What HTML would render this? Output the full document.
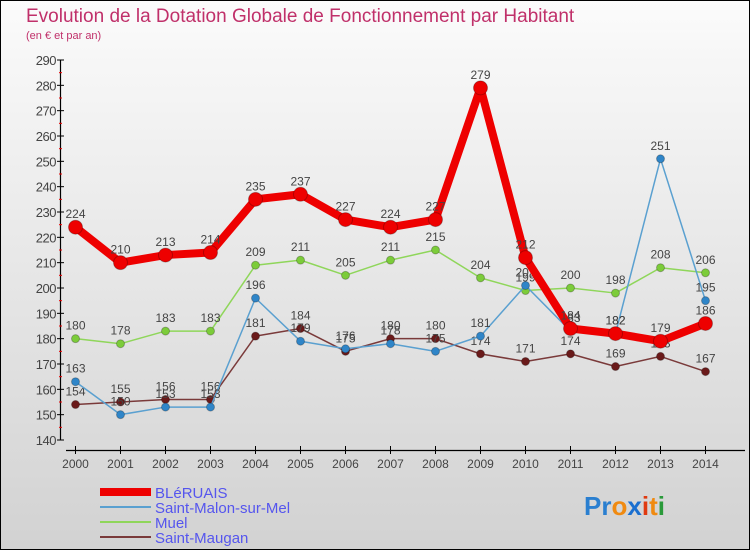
<!DOCTYPE html>
<html><head><meta charset="utf-8"><style>
html,body{margin:0;padding:0;}
body{width:750px;height:550px;overflow:hidden;font-family:"Liberation Sans",sans-serif;}
</style></head><body>
<svg id="chart" width="750" height="550" xmlns="http://www.w3.org/2000/svg" font-family="Liberation Sans, sans-serif">
<defs><linearGradient id="bg" x1="0" y1="0" x2="0" y2="1"><stop offset="0" stop-color="#fbfbfb"/><stop offset="1" stop-color="#d2d2d2"/></linearGradient></defs>
<rect x="0.5" y="0.5" width="749" height="549" fill="url(#bg)" stroke="#000"/>
<text x="26" y="22" font-size="19" fill="#c0306a">Evolution de la Dotation Globale de Fonctionnement par Habitant</text>
<text x="26" y="39" font-size="11" fill="#c0306a">(en € et par an)</text>
<g id="axes"></g>
<g id="series"></g>
<g id="legend"></g>
<text x="584" y="515" font-size="26" font-weight="bold"><tspan fill="#2a7fd0">Pr</tspan><tspan fill="#f08a10">o</tspan><tspan fill="#1a6fd0">x</tspan><tspan fill="#e03a10">i</tspan><tspan fill="#f08a10">t</tspan><tspan fill="#2a9a3a">i</tspan></text>
</svg>
<script>
const years=[2000,2001,2002,2003,2004,2005,2006,2007,2008,2009,2010,2011,2012,2013,2014];
const yTicks=[140,150,160,170,180,190,200,210,220,230,240,250,260,270,280,290];
const bleruais=[224,210,213,214,235,237,227,224,227,279,212,184,182,179,186];
const malon=[163,150,153,153,196,179,176,178,175,181,201,183,182,251,195];
const muel=[180,178,183,183,209,211,205,211,215,204,199,200,198,208,206];
const maugan=[154,155,156,156,181,184,175,180,180,174,171,174,169,173,167];
const NS='http://www.w3.org/2000/svg';
function X(i){return 75.5+i*45;}
function Y(v){return 440-(v-140)*(380/150);}
function mk(t,a,p){const e=document.createElementNS(NS,t);for(const k in a)e.setAttribute(k,a[k]);p.appendChild(e);return e;}
const axes=document.getElementById('axes');
let l=mk('line',{x1:60.5,y1:60,x2:60.5,y2:440,stroke:'#000','stroke-width':1.2},axes);


l=mk('line',{x1:66,y1:450.5,x2:745,y2:450.5,stroke:'#000','stroke-width':1.2},axes);


yTicks.forEach(v=>{
 mk('line',{x1:57,y1:Y(v),x2:64,y2:Y(v),stroke:'#000'},axes);
 if(v<290)mk('line',{x1:59,y1:Y(v+5),x2:62,y2:Y(v+5),stroke:'#e00'},axes);
 const t=mk('text',{x:56,y:Y(v)+5,'font-size':13,'text-anchor':'end',fill:'#444','letter-spacing':'-0.5'},axes);t.textContent=v;
 
 
});
years.forEach((yr,i)=>{
 mk('line',{x1:X(i),y1:446,x2:X(i),y2:454,stroke:'#000'},axes);
 const t=mk('text',{x:X(i),y:468,'font-size':12,'text-anchor':'middle',fill:'#444'},axes);t.textContent=yr;
 
 
});
const series=[
 {d:muel,c:'#8fd65a',pc:'#7ccc3a',w:1.5,r:4,n:'muel'},
 {d:maugan,c:'#7a3a3a',pc:'#6a1a1a',w:1.5,r:4,n:'saint-maugan'},
 {d:malon,c:'#5aa0d0',pc:'#2f85c8',w:1.5,r:4,n:'saint-malon'},
 {d:bleruais,c:'#ee0000',pc:'#ee0000',w:8,r:7,n:'bleruais'}
];
const sg=document.getElementById('series');
series.forEach(s=>{
 const g=mk('g',{},sg);
 
 
 const p=mk('polyline',{points:s.d.map((v,i)=>X(i)+','+Y(v)).join(' '),fill:'none',stroke:s.c,'stroke-width':s.w,'stroke-linejoin':'round'},g);
 
 
 s.d.forEach((v,i)=>{
  const c=mk('circle',{cx:X(i),cy:Y(v),r:s.r,fill:s.pc,stroke:'rgba(0,0,0,0.25)'},g);
  
  
  const t=mk('text',{x:X(i),y:Y(v)-9,'font-size':12,'text-anchor':'middle',fill:'#444'},g);t.textContent=v;
  
  
 });
});
const lg=document.getElementById('legend');
const leg=[['BLéRUAIS','#ee0000',8],['Saint-Malon-sur-Mel','#5aa0d0',2],['Muel','#8fd65a',2],['Saint-Maugan','#7a3a3a',2]];
leg.forEach((e,i)=>{
 const y=492+i*15;
 const li=mk('line',{x1:100,y1:y,x2:151,y2:y,stroke:e[1],'stroke-width':e[2]},lg);
 
 
 const t=mk('text',{x:155,y:y+6,'font-size':15,fill:'#5555ee'},lg);t.textContent=e[0];
 
 
});
</script>
</body></html>
